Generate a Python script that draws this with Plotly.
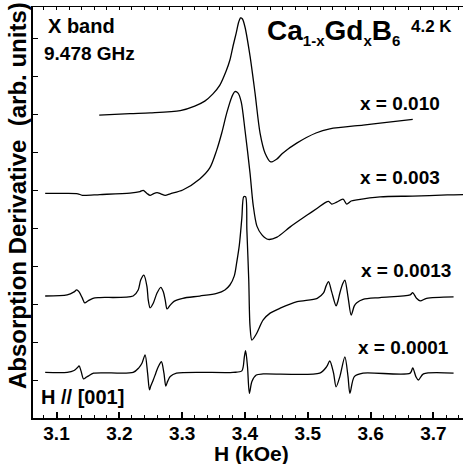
import plotly.graph_objects as go

# ---- data (H in kOe, derivative in arb. units incl. vertical offsets) ----
h_010 = [3.168, 3.217, 3.249, 3.297, 3.320, 3.336, 3.349, 3.360, 3.370, 3.376, 3.381, 3.386,
         3.390, 3.393, 3.396, 3.400, 3.408, 3.416, 3.424, 3.432, 3.441, 3.451, 3.460, 3.483,
         3.513, 3.535, 3.588, 3.615, 3.667]
y_010 = [7.97, 8.01, 8.03, 8.09, 8.21, 8.34, 8.53, 8.76, 9.13, 9.42, 9.79, 10.13,
         10.42, 10.53, 10.50, 10.29, 9.53, 8.55, 7.50, 6.97, 6.74, 6.82, 6.97, 7.24,
         7.50, 7.61, 7.71, 7.76, 7.86]

h_003 = [3.082, 3.114, 3.134, 3.141, 3.169, 3.217, 3.233, 3.238, 3.244, 3.249, 3.254, 3.260,
         3.266, 3.273, 3.281, 3.301, 3.328, 3.344, 3.355, 3.363, 3.371, 3.379, 3.384, 3.389,
         3.394, 3.400, 3.408, 3.413, 3.419, 3.427, 3.437, 3.451, 3.472, 3.499, 3.515, 3.527,
         3.533, 3.538, 3.546, 3.556, 3.562, 3.569, 3.578, 3.615, 3.667, 3.722, 3.758]
y_003 = [5.91, 5.91, 5.90, 5.86, 5.88, 5.92, 5.96, 5.99, 5.91, 5.86, 5.90, 5.93,
         5.90, 5.86, 5.90, 6.00, 6.29, 6.58, 7.05, 7.50, 8.03, 8.45, 8.59, 8.55,
         8.32, 7.58, 6.45, 5.61, 5.05, 4.82, 4.70, 4.76, 5.03, 5.34, 5.52, 5.66,
         5.70, 5.63, 5.68, 5.76, 5.63, 5.71, 5.74, 5.82, 5.84, 5.87, 5.88]

h_0013 = [3.082, 3.117, 3.128, 3.132, 3.136, 3.141, 3.145, 3.150, 3.158, 3.169, 3.222, 3.230,
          3.234, 3.239, 3.244, 3.246, 3.249, 3.254, 3.260, 3.266, 3.270, 3.273, 3.276, 3.281,
          3.287, 3.301, 3.328, 3.355, 3.368, 3.376, 3.383, 3.387, 3.391, 3.395, 3.398, 3.401,
          3.403, 3.406, 3.408, 3.411, 3.418, 3.429, 3.440, 3.456, 3.483, 3.515, 3.525, 3.529,
          3.533, 3.538, 3.545, 3.548, 3.551, 3.556, 3.559, 3.564, 3.569, 3.574, 3.578, 3.588,
          3.615, 3.663, 3.667, 3.673, 3.679, 3.689, 3.732]
y_0013 = [3.21, 3.24, 3.32, 3.37, 3.32, 3.16, 3.03, 3.08, 3.15, 3.17, 3.21, 3.37,
          3.63, 3.76, 3.46, 3.11, 2.90, 3.02, 3.29, 3.44, 3.32, 3.11, 2.87, 2.97,
          3.07, 3.15, 3.21, 3.28, 3.37, 3.50, 3.74, 4.11, 4.55, 5.26, 5.82, 5.82,
          4.95, 3.63, 2.42, 2.05, 2.21, 2.58, 2.76, 2.89, 3.06, 3.15, 3.29, 3.47,
          3.59, 3.32, 2.95, 3.08, 3.29, 3.55, 3.63, 3.19, 2.71, 2.95, 3.03, 3.12,
          3.17, 3.24, 3.30, 3.15, 3.08, 3.15, 3.19]

h_0001 = [3.082, 3.117, 3.128, 3.133, 3.136, 3.139, 3.143, 3.147, 3.151, 3.159, 3.222, 3.231,
          3.236, 3.241, 3.245, 3.248, 3.250, 3.254, 3.258, 3.262, 3.267, 3.271, 3.274, 3.277,
          3.281, 3.291, 3.381, 3.395, 3.399, 3.401, 3.404, 3.407, 3.411, 3.418, 3.429, 3.519,
          3.530, 3.535, 3.541, 3.545, 3.551, 3.559, 3.564, 3.567, 3.574, 3.588, 3.663, 3.667,
          3.672, 3.676, 3.684, 3.732]
y_0001 = [1.20, 1.20, 1.25, 1.32, 1.37, 1.24, 1.03, 1.07, 1.11, 1.18, 1.20, 1.32,
          1.44, 1.66, 1.18, 0.74, 0.84, 1.00, 1.18, 1.35, 1.48, 1.18, 0.84, 0.97,
          1.09, 1.18, 1.20, 1.24, 1.61, 1.77, 1.35, 0.65, 0.96, 1.13, 1.16, 1.18,
          1.35, 1.50, 1.18, 0.82, 1.09, 1.61, 1.09, 0.65, 1.09, 1.18, 1.18, 1.32,
          1.09, 1.00, 1.16, 1.18]

series = [(h_010, y_010), (h_003, y_003), (h_0013, y_0013), (h_0001, y_0001)]
labels = ["x = 0.010", "x = 0.003", "x = 0.0013", "x = 0.0001"]

FONT = "Liberation Sans, Arial, Helvetica, sans-serif"

fig = go.Figure()
for hx, yy in series:
    fig.add_trace(go.Scatter(x=hx, y=yy, mode="lines",
                             line=dict(color="black", width=1.3, shape="spline", smoothing=0.8),
                             showlegend=False, hoverinfo="skip"))
# dummy trace for top axis
fig.add_trace(go.Scatter(x=[None], y=[None], xaxis="x2", showlegend=False, hoverinfo="skip"))

fig.update_layout(
    width=463, height=464,
    margin=dict(l=33, r=0, t=7, b=46),
    paper_bgcolor="white", plot_bgcolor="white",
    font=dict(family=FONT, color="black", weight="bold"),
    xaxis=dict(range=[3.0626, 3.7470], tick0=3.1, dtick=0.1, ticks="inside", ticklen=6,
               tickwidth=1.5, tickcolor="black", showline=True, linewidth=2, linecolor="black",
               showgrid=False, zeroline=False, ticklabelstandoff=-3,
               tickfont=dict(size=19, family=FONT, weight="bold"),
               minor=dict(dtick=0.02, tick0=3.1, ticks="inside", ticklen=3.5, tickwidth=1,
                          tickcolor="black", showgrid=False)),
    xaxis2=dict(overlaying="x", side="top", matches="x", anchor="y", tick0=3.1, dtick=0.02,
                ticks="inside", ticklen=3, tickwidth=1, tickcolor="black", showline=True,
                linewidth=1, linecolor="black", showticklabels=False, showgrid=False,
                zeroline=False),
    yaxis=dict(range=[0, 10.816], tick0=0, dtick=1, ticks="inside", ticklen=5, tickwidth=1,
               tickcolor="black", showline=True, linewidth=2, linecolor="black",
               showticklabels=False, showgrid=False, zeroline=False),
)

def px2x(px):
    return (px - 33) / 430.0

def py2y(py):
    return (418 - py) / 411.0

SUB = "<sub><span style='font-size:15px'>{}</span></sub>"
ann = []
ann.append(dict(text="X band", x=px2x(46), y=py2y(26), xanchor="left", yanchor="middle",
                font=dict(size=20)))
ann.append(dict(text="9.478 GHz", x=px2x(42), y=py2y(54), xanchor="left", yanchor="middle",
                font=dict(size=19)))
ann.append(dict(text="Ca" + SUB.format("1-x") + "Gd" + SUB.format("x") + "B" + SUB.format("6"),
                x=px2x(265), y=py2y(32), xanchor="left", yanchor="middle", font=dict(size=28)))
ann.append(dict(text="4.2 K", x=px2x(409), y=py2y(26), xanchor="left", yanchor="middle",
                font=dict(size=17)))
lab_pos = [(442, 103), (442, 177), (453, 270), (451, 347)]
for t, (lx, ly) in zip(labels, lab_pos):
    ann.append(dict(text=t, x=px2x(lx), y=py2y(ly), xanchor="right", yanchor="middle",
                    font=dict(size=19)))
ann.append(dict(text="H // [001]", x=px2x(39), y=py2y(397), xanchor="left", yanchor="middle",
                font=dict(size=20)))
ann.append(dict(text="H (kOe)", x=px2x(251), y=py2y(453), xanchor="center", yanchor="middle",
                font=dict(size=21)))
ann.append(dict(text="Absorption Derivative &nbsp;(arb. units)", x=px2x(17), y=py2y(196),
                xanchor="center", yanchor="middle", textangle=-90, font=dict(size=24)))
for a in ann:
    a.update(xref="paper", yref="paper", showarrow=False)
    a["font"].update(family=FONT, color="black", weight="bold")
fig.update_layout(annotations=ann)

fig.write_html("out.html", config={"displayModeBar": False},
               post_script="document.body.style.margin='0px';document.body.style.overflow='hidden';")
